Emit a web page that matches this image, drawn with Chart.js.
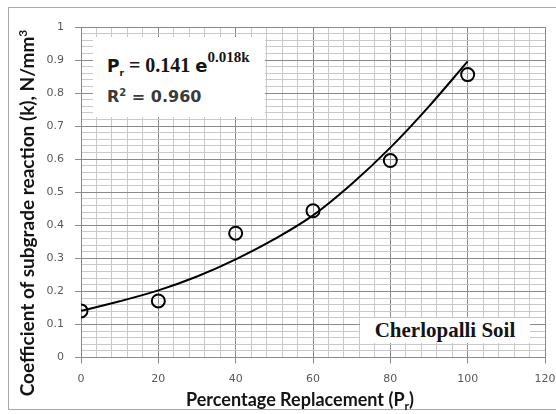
<!DOCTYPE html>
<html>
<head>
<meta charset="utf-8">
<script src="https://cdn.jsdelivr.net/npm/chart.js@4.4.0/dist/chart.umd.min.js"></script>
<style>
  body { margin: 0; background: #fff; overflow: hidden; }
  #wrap { position: relative; width: 556px; height: 414px; overflow: hidden; background: #fff; }
  .edge { position: absolute; background: #a9a9a9; }
  #chart { position: absolute; left: 0; top: 0; }
  .ytitle { position: absolute; left: -175px; top: 203px; width: 400px; height: 20px; line-height: 20px;
            text-align: center; transform: rotate(-90deg); font: bold 19px Lato, sans-serif; color: #141414; white-space: nowrap; }
  .ytitle sup { font-size: 12px; vertical-align: 7px; line-height: 0; }
  .xtitle { position: absolute; left: 100px; top: 388px; width: 400px; text-align: center;
            font: bold 18px Lato, sans-serif; color: #141414; white-space: nowrap; }
  .xtitle sub { font-size: 12px; vertical-align: -4px; line-height: 0; }
  .eqbox { position: absolute; left: 93px; top: 37px; width: 172px; height: 80px; background: #fff; }
  .eq1 { position: absolute; left: 14px; top: 17px; white-space: nowrap; color: #151515; }
  .eq1 .p { font: bold 17px "DejaVu Sans", sans-serif; }
  .eq1 .p sub { font-size: 9px; vertical-align: -4px; line-height: 0; }
  .eq1 .s { font: bold 20px "Liberation Serif", serif; }
  .eq1 .e { font: bold 18px "DejaVu Sans", sans-serif; }
  .eq1 sup { font: bold 15px "Liberation Serif", serif; vertical-align: 10px; line-height: 0; }
  .eq2 { position: absolute; left: 14px; top: 50px; white-space: nowrap; font: bold 16px "DejaVu Sans", sans-serif; color: #3a3a3a; }
  .eq2 sup { font-size: 10px; vertical-align: 6px; line-height: 0; }
  .soil { position: absolute; left: 360px; top: 318px; width: 170px; height: 25px; background: #fff;
          font: bold 21px "Liberation Serif", serif; color: #141414; line-height: 25px; text-align: center; white-space: nowrap; }
</style>
</head>
<body>
<div id="wrap">
  <!-- outer chart frame, open on the right -->
  <div class="edge" style="left:8px; top:7px; width:548px; height:1px;"></div>
  <div class="edge" style="left:8px; top:7px; width:1px; height:403px;"></div>
  <div class="edge" style="left:8px; top:409px; width:548px; height:1px;"></div>
  <canvas id="chart" width="556" height="414"></canvas>
  <div class="ytitle">Coefficient of subgrade reaction (k), N/mm<sup>3</sup></div>
  <div class="xtitle">Percentage Replacement (P<sub>r</sub>)</div>
  <div class="eqbox">
    <div class="eq1"><span class="p">P<sub>r</sub></span><span class="s"> = 0.141 </span><span class="e">e</span><sup>0.018k</sup></div>
    <div class="eq2">R<sup>2</sup> = 0.960</div>
  </div>
  <div class="soil">Cherlopalli Soil</div>
</div>
<script>
// measured points
const replacement = [0, 20, 40, 60, 80, 100];
const subgradeK = [0.141, 0.171, 0.376, 0.444, 0.596, 0.856];

// exponential trend line, read at every 10 %
const trendX = [0, 10, 20, 30, 40, 50, 60, 70, 80, 90, 100];
const trendK = [0.141, 0.170, 0.203, 0.245, 0.297, 0.358, 0.430, 0.525, 0.635, 0.760, 0.896];

// axes
const xRange = [0, 120];
const xMajor = 20, xMinor = 4;
const yRange = [0, 1];
const yMajor = 0.1, yMinor = 0.02;

const MAJOR = "#8a8a8a";
const MINOR = "#c9c9c9";
const tickFont = { family: "DejaVu Sans", size: 11 };

const isMajor = (v, step) => Math.abs(v / step - Math.round(v / step)) < 1e-6;
const toPoints = (xs, ys) => xs.map((x, i) => ({ x: x, y: ys[i] }));

new Chart(document.getElementById("chart").getContext("2d"), {
  type: "scatter",
  data: {
    datasets: [
      {
        label: "Trend",
        data: toPoints(trendX, trendK),
        showLine: true,
        borderColor: "#000",
        borderWidth: 2,
        pointRadius: 0,
        cubicInterpolationMode: "monotone",
        order: 0
      },
      {
        label: "k",
        data: toPoints(replacement, subgradeK),
        pointRadius: 6.5,
        pointBorderWidth: 2,
        pointBorderColor: "#000",
        pointBackgroundColor: "rgba(255,255,255,0)",
        order: 1
      }
    ]
  },
  options: {
    responsive: false,
    animation: false,
    layout: { padding: { top: 27, right: 11, left: 0, bottom: 0 } },
    plugins: { legend: { display: false }, tooltip: { enabled: false } },
    scales: {
      x: {
        min: xRange[0],
        max: xRange[1],
        // fixed plot box: ignore the label overhang
        afterFit: s => { s.height = 56.5; s.paddingLeft = 0; s.paddingRight = 0; },
        border: { color: MAJOR, width: 1 },
        grid: {
          color: c => isMajor(c.tick.value, xMajor) ? MAJOR : MINOR,
          tickColor: c => isMajor(c.tick.value, xMajor) ? MAJOR : "rgba(0,0,0,0)",
          tickLength: 6
        },
        ticks: {
          stepSize: xMinor,
          autoSkip: false,
          maxRotation: 0,
          padding: 9,
          color: "#595959",
          font: tickFont,
          callback: v => isMajor(v, xMajor) ? String(v) : ""
        }
      },
      y: {
        min: yRange[0],
        max: yRange[1],
        afterFit: s => { s.width = 81; s.paddingTop = 0; s.paddingBottom = 0; },
        border: { color: MAJOR, width: 1 },
        grid: {
          color: c => isMajor(c.tick.value, yMajor) ? MAJOR : MINOR,
          tickColor: c => isMajor(c.tick.value, yMajor) ? MAJOR : "rgba(0,0,0,0)",
          tickLength: 6
        },
        ticks: {
          stepSize: yMinor,
          autoSkip: false,
          padding: 11,
          color: "#595959",
          font: tickFont,
          callback: v => isMajor(v, yMajor) ? String(Number(v.toFixed(1))) : ""
        }
      }
    }
  }
});
</script>
</body>
</html>
